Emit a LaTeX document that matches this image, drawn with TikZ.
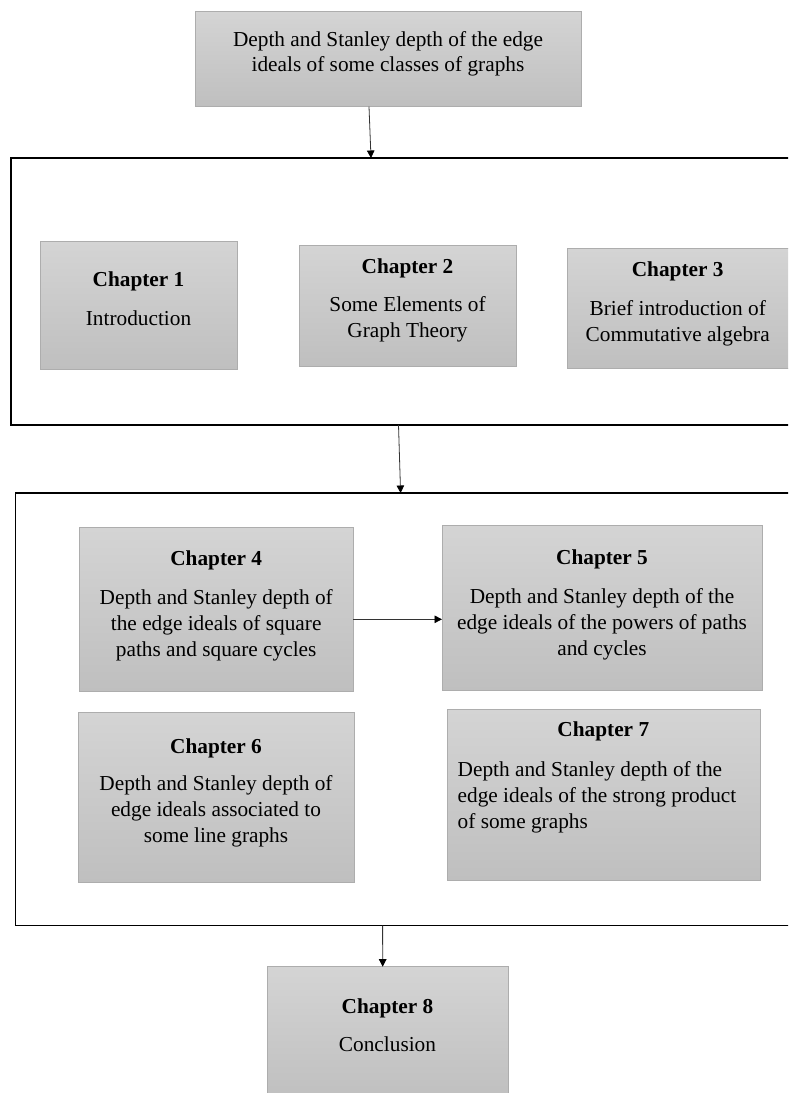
\documentclass[tikz,border=0pt]{standalone}
\usepackage{fontspec}
\setmainfont{Liberation Serif}
\usetikzlibrary{arrows.meta}
\definecolor{boxtop}{HTML}{D4D4D4}
\definecolor{boxbot}{HTML}{BFBFBF}
\definecolor{boxborder}{HTML}{ADADAD}
\newcommand{\bodysize}{\fontsize{21.3pt}{26pt}\selectfont}
\tikzset{
  box/.style={rectangle, draw=boxborder, line width=1pt, top color=boxtop, bottom color=boxbot, inner sep=0pt, outer sep=0pt, anchor=north west},
  frame/.style={rectangle, draw=black, line width=1.4pt, inner sep=0pt, outer sep=0pt, anchor=north west},
  head/.style={font=\bodysize\bfseries, inner sep=0pt, anchor=base},
  body/.style={font=\bodysize, align=center, inner sep=0pt, anchor=north},
  bodyleft/.style={font=\bodysize, align=left, inner sep=0pt, anchor=north west},
  arr/.style={draw=black!80, line width=0.8pt, -{Triangle[length=7.5pt,width=7.5pt,color=black]}},
}
\begin{document}
\begin{tikzpicture}[x=1pt,y=-1pt]
\path[use as bounding box] (0,0) rectangle (788,1093);
\clip (0,0) rectangle (788,1093);
% top box
\node[box, minimum width=386pt, minimum height=95pt] (top) at (195,11.7) {};
\node[body] (btop) at (388,28.5) {\strut Depth and Stanley depth of the edge\\[-1pt] ideals of some classes of graphs};
% container 1
\node[frame, minimum width=800pt, minimum height=266.8pt] (c1) at (11,158) {};
\node[box, minimum width=197pt, minimum height=127.3pt] (x1) at (40,241.7) {};
\node[head] (h1) at (138.5,286.7) {Chapter 1};
\node[body] (b1) at (138.5,307.5) {\strut Introduction};
\node[box, minimum width=217pt, minimum height=121pt] (x2) at (299,245) {};
\node[head] (h2) at (407.5,273.3) {Chapter 2};
\node[body] (b2) at (407.5,293.5) {\strut Some Elements of\\ Graph Theory};
\node[box, minimum width=224pt, minimum height=120pt] (x3) at (567.3,248.3) {};
\node[head] (h3) at (677.7,276.7) {Chapter 3};
\node[body] (b3) at (677.7,296.8) {\strut Brief introduction of\\ Commutative algebra};
% container 2
\node[frame, minimum width=800pt, minimum height=432.7pt] (c2) at (15.6,493) {};
\node[box, minimum width=273.6pt, minimum height=163.8pt] (x4) at (79.4,527.7) {};
\node[head] (h4) at (216.2,565) {Chapter 4};
\node[body] (b4) at (216.2,586.5) {\strut Depth and Stanley depth of\\ the edge ideals of square\\ paths and square cycles};
\node[box, minimum width=320pt, minimum height=165pt] (x5) at (442,525.7) {};
\node[head] (h5) at (602,564.3) {Chapter 5};
\node[body] (b5) at (602,585.3) {\strut Depth and Stanley depth of the\\ edge ideals of the powers of paths\\ and cycles};
\node[box, minimum width=275.7pt, minimum height=170.4pt] (x6) at (78.3,712.3) {};
\node[head] (h6) at (216,753.3) {Chapter 6};
\node[body] (b6) at (216,772.5) {\strut Depth and Stanley depth of\\ edge ideals associated to\\ some line graphs};
\node[box, minimum width=312.7pt, minimum height=170.7pt] (x7) at (447.3,709.3) {};
\node[head] (h7) at (603.3,736.7) {Chapter 7};
\node[bodyleft] (b7) at (457.5,757.8) {\strut Depth and Stanley depth of the\\ edge ideals of the strong product\\ of some graphs};
% chapter 8
\node[box, minimum width=241pt, minimum height=135pt] (x8) at (267.3,966.7) {};
\node[head] (h8) at (387.5,1013.3) {Chapter 8};
\node[body] (b8) at (387.5,1033.5) {\strut Conclusion};
% connectors
\draw[arr] ([xshift=174pt]top.south west) -- ([xshift=360pt]c1.north west);
\draw[arr] ([xshift=387.5pt]c1.south west) -- ([xshift=385pt]c2.north west);
\draw[arr] ([yshift=-9.7pt]x4.east) -- ([yshift=-9.7pt]x4.east -| x5.west);
\draw[arr] ([xshift=367pt]c2.south west) -- ([xshift=115.4pt]x8.north west);
\end{tikzpicture}
\end{document}
